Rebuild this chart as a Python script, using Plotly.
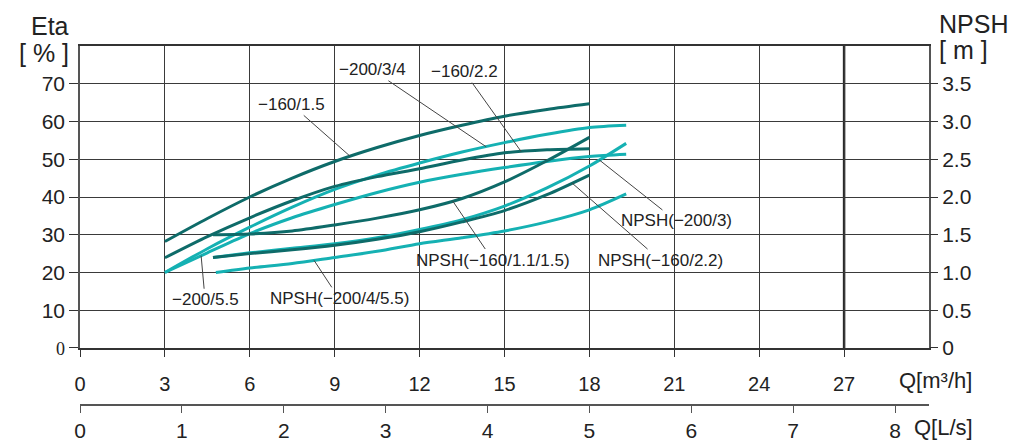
import numpy as np
import plotly.graph_objects as go

DARK = "#0e6b69"
CYAN = "#15b1b3"
GRID = "#3a3a3a"
TXT = "#222222"
FONT = "Liberation Sans, Arial, Helvetica, sans-serif"

# ---- data (Eta in %, NPSH in m, Q in m3/h) ----
q_160 = [3, 4.5, 6, 7.5, 9, 10.5, 12, 13.5, 15, 16.5, 18]
eta_160_15 = [28.2, 34.3, 40.0, 45.0, 49.4, 53.1, 56.3, 59.0, 61.4, 63.2, 64.7]
eta_160_22 = [23.9, 29.5, 34.5, 39.0, 42.8, 45.4, 47.5, 49.8, 51.7, 52.5, 52.8]

q_200 = [3, 4.5, 6, 7.5, 9, 10.5, 12, 13.5, 15, 16.5, 18, 19.3]
eta_200_34 = [20.0, 26.3, 32.0, 37.3, 42.0, 45.8, 49.0, 51.9, 54.4, 56.6, 58.4, 59.0]
eta_200_55 = [20.0, 25.2, 30.3, 34.5, 38.0, 41.2, 43.9, 46.0, 47.8, 49.4, 50.7, 51.3]

q_npsh_160 = [4.7, 6, 7.5, 9, 10.5, 12, 13.5, 15, 16.5, 18]
npsh_160_115 = [1.50, 1.51, 1.55, 1.63, 1.72, 1.83, 1.98, 2.20, 2.48, 2.79]
npsh_160_22 = [1.20, 1.25, 1.30, 1.36, 1.44, 1.54, 1.67, 1.82, 2.03, 2.29]

q_npsh_200_3 = [4.7, 6, 7.5, 9, 10.5, 12, 13.5, 15, 16.5, 18, 19.3]
npsh_200_3 = [1.20, 1.26, 1.32, 1.38, 1.46, 1.57, 1.70, 1.88, 2.12, 2.41, 2.71]

q_npsh_200_455 = [4.8, 6, 7.5, 9, 10.5, 12, 13.5, 15, 16.5, 18, 19.3]
npsh_200_455 = [1.00, 1.06, 1.12, 1.20, 1.28, 1.38, 1.46, 1.55, 1.67, 1.83, 2.04]

q_ticks = [0, 3, 6, 9, 12, 15, 18, 21, 24, 27]
ls_ticks = [0, 1, 2, 3, 4, 5, 6, 7, 8]
eta_ticks = [0, 10, 20, 30, 40, 50, 60, 70]
npsh_ticks = [0, 0.5, 1.0, 1.5, 2.0, 2.5, 3.0, 3.5]
npsh_ticktext = ["0", "0.5", "1.0", "1.5", "2.0", "2.5", "3.0", "3.5"]

Q_MAX = 30
M3H_PER_LS = 3.6

fig = go.Figure()

def line(x, y, color, axis):
    fig.add_trace(go.Scatter(
        x=x, y=y, mode="lines", yaxis=axis, hoverinfo="skip", showlegend=False,
        line=dict(color=color, width=3, shape="spline", smoothing=0.8)))

# cyan first, dark on top
line(q_200, eta_200_34, CYAN, "y")
line(q_200, eta_200_55, CYAN, "y")
line(q_npsh_200_3, npsh_200_3, CYAN, "y2")
line(q_npsh_200_455, npsh_200_455, CYAN, "y2")
line(q_160, eta_160_15, DARK, "y")
line(q_160, eta_160_22, DARK, "y")
line(q_npsh_160, npsh_160_115, DARK, "y2")
line(q_npsh_160, npsh_160_22, DARK, "y2")

# dummy trace to carry the L/s axis
fig.add_trace(go.Scatter(x=[0, Q_MAX / M3H_PER_LS], y=[None, None], xaxis="x2", yaxis="y",
                         mode="lines", hoverinfo="skip", showlegend=False))

# ---- curve labels with leader lines ----
labels = [
    ("−160/1.5", q_160, eta_160_15, 9.55, "y", -59, -52),
    ("−200/3/4", q_200, eta_200_34, 14.35, "y", -114, -77),
    ("−160/2.2", q_160, eta_160_22, 15.59, "y", -57, -80),
    ("NPSH(−200/3)", q_npsh_200_3, npsh_200_3, 18.35, "y2", 77, 61),
    ("NPSH(−160/2.2)", q_npsh_160, npsh_160_22, 17.39, "y2", 88, 77),
    ("NPSH(−160/1.1/1.5)", q_npsh_160, npsh_160_115, 13.17, "y2", 40, 59),
    ("−200/5.5", q_200, eta_200_55, 4.28, "y", 4, 44),
    ("NPSH(−200/4/5.5)", q_npsh_200_455, npsh_200_455, 8.27, "y2", 25, 38),
]
for text, qx, yy, qa, ax_name, dx, dy in labels:
    fig.add_annotation(
        x=qa, y=float(np.interp(qa, qx, yy)), xref="x", yref=ax_name,
        text=text, showarrow=True, arrowhead=0, arrowwidth=1, arrowcolor="#444444",
        ax=dx, ay=dy, standoff=0, font=dict(family=FONT, size=17, color=TXT))

# ---- axis titles ----
title_font = dict(family=FONT, size=25, color=TXT)
fig.add_annotation(text="Eta", x=-0.0106, y=1.0557, xref="paper", yref="paper",
                   xanchor="right", yanchor="middle", showarrow=False, font=title_font)
fig.add_annotation(text="[ % ]", x=-0.0106, y=0.981, xref="paper", yref="paper",
                   xanchor="right", yanchor="middle", showarrow=False, font=title_font)
fig.add_annotation(text="NPSH", x=1.009, y=1.061, xref="paper", yref="paper",
                   xanchor="left", yanchor="middle", showarrow=False, font=title_font)
fig.add_annotation(text="[ m ]", x=1.009, y=0.989, xref="paper", yref="paper",
                   xanchor="left", yanchor="middle", showarrow=False, font=title_font)
fig.add_annotation(text="Q[m³/h]", x=0.962, y=0.0696, xref="paper", yref="paper",
                   xanchor="left", yanchor="middle", showarrow=False,
                   font=dict(family=FONT, size=22, color=TXT))
fig.add_annotation(text="Q[L/s]", x=0.98, y=-0.062, xref="paper", yref="paper",
                   xanchor="left", yanchor="middle", showarrow=False,
                   font=dict(family=FONT, size=22, color=TXT))

# thicker grid line at 27
fig.add_shape(type="line", x0=27, x1=27, y0=0, y1=80, xref="x", yref="y",
              line=dict(color="#2a2a2a", width=2.5), layer="below")

eta_ticktext = ['<span style="font-family:Liberation Serif;font-size:18px">0</span>'] + \
    [str(v) for v in eta_ticks[1:]]

fig.update_layout(
    width=1021, height=441,
    margin=dict(l=80, r=92, t=46, b=36, autoexpand=False),
    paper_bgcolor="white", plot_bgcolor="white",
    font=dict(family=FONT, color=TXT),
    xaxis=dict(range=[0, Q_MAX], domain=[0, 1], anchor="y", automargin=False,
               tickvals=q_ticks, ticks="outside", ticklen=7, tickcolor="#333",
               tickfont=dict(size=20, color=TXT), ticklabelstandoff=10,
               showgrid=True, gridcolor=GRID, gridwidth=1.2,
               showline=True, linecolor="#333", linewidth=1.5, mirror=True,
               zeroline=False),
    xaxis2=dict(range=[0, Q_MAX / M3H_PER_LS], overlaying="x", anchor="free",
                position=0, side="bottom", tickvals=ls_ticks, ticks="outside",
                automargin=False,
                ticklen=7, tickcolor="#555", tickfont=dict(size=21, color=TXT),
                showgrid=False, showline=True, linecolor="#555", linewidth=1.5,
                zeroline=False),
    yaxis=dict(range=[0, 80], domain=[0.1588, 1], anchor="x", automargin=False,
               tickvals=eta_ticks, ticktext=eta_ticktext, ticks="outside",
               ticklen=9, tickcolor="#333", tickfont=dict(size=21, color=TXT),
               showgrid=True, gridcolor=GRID, gridwidth=1.2,
               showline=True, linecolor="#555", linewidth=1.5, mirror=True,
               zeroline=False),
    yaxis2=dict(range=[0, 4], overlaying="y", side="right", anchor="x",
                automargin=False,
                tickvals=npsh_ticks, ticktext=npsh_ticktext, ticks="outside",
                ticklen=8, tickcolor="#333", tickfont=dict(size=21, color=TXT),
                showgrid=False, showline=False, zeroline=False),
)

fig.write_html("out.html", config={"displayModeBar": False},
               post_script="document.body.style.margin='0';document.body.style.overflow='hidden';")
